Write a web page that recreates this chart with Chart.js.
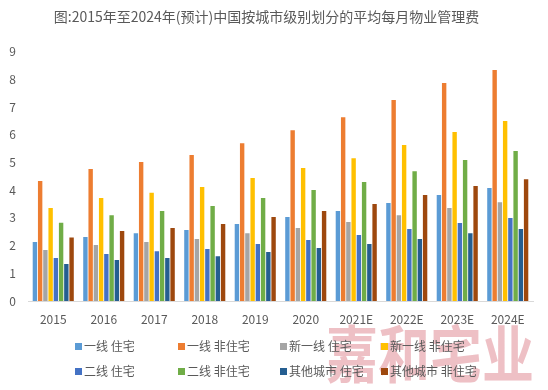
<!DOCTYPE html>
<html>
<head>
<meta charset="utf-8">
<script src="https://cdn.jsdelivr.net/npm/chart.js@4.4.0/dist/chart.umd.min.js"></script>
<style>
  html, body { margin: 0; padding: 0; background: #fff; }
  #wrap { position: relative; width: 548px; height: 390px; overflow: hidden; }
  #c { position: absolute; left: 0; top: 0; }
  #wm { position: absolute; left: 326px; top: 320px; font-family: 'Noto Sans CJK SC', sans-serif; font-weight: bold;
        font-size: 52px; line-height: 52px; color: rgba(222, 130, 140, 0.5); white-space: nowrap;
        transform: scale(1, 1.2); transform-origin: left top; letter-spacing: 0px; }
  .lg { position: absolute; font-family: 'Noto Sans CJK SC', sans-serif; font-size: 12px; color: #595959;
        white-space: nowrap; line-height: 14px; }
  .lg i { display: inline-block; width: 7px; height: 7px; margin-right: 2px; vertical-align: 1px; }
</style>
</head>
<body>
<div id="wrap">
  <canvas id="c" width="548" height="390"></canvas>
  <div id="wm">嘉和宅业</div>
  <div id="legend"></div>
</div>
<script>
const titleText = '图:2015年至2024年(预计)中国按城市级别划分的平均每月物业管理费';
const categories = ['2015', '2016', '2017', '2018', '2019', '2020', '2021E', '2022E', '2023E', '2024E'];
const seriesNames = ['一线 住宅', '一线 非住宅', '新一线 住宅', '新一线 非住宅', '二线 住宅', '二线 非住宅', '其他城市 住宅', '其他城市 非住宅'];
const seriesColors = ['#5B9BD5', '#ED7D31', '#A5A5A5', '#FFC000', '#4472C4', '#70AD47', '#255E91', '#9E480E'];
const tier1Res     = [2.13, 2.31, 2.45, 2.56, 2.78, 3.03, 3.25, 3.54, 3.83, 4.08];
const tier1NonRes  = [4.33, 4.77, 5.02, 5.27, 5.70, 6.17, 6.64, 7.26, 7.87, 8.34];
const newT1Res     = [1.84, 2.02, 2.13, 2.24, 2.45, 2.64, 2.85, 3.10, 3.36, 3.57];
const newT1NonRes  = [3.36, 3.72, 3.91, 4.12, 4.44, 4.80, 5.16, 5.63, 6.10, 6.50];
const tier2Res     = [1.55, 1.70, 1.80, 1.88, 2.06, 2.20, 2.38, 2.60, 2.82, 3.00];
const tier2NonRes  = [2.83, 3.10, 3.25, 3.43, 3.72, 4.01, 4.30, 4.69, 5.09, 5.42];
const otherRes     = [1.34, 1.48, 1.55, 1.62, 1.77, 1.91, 2.06, 2.24, 2.45, 2.60];
const otherNonRes  = [2.29, 2.53, 2.64, 2.78, 3.03, 3.25, 3.50, 3.83, 4.15, 4.40];
const yTicks = [0, 1, 2, 3, 4, 5, 6, 7, 8, 9];

const seriesValues = [tier1Res, tier1NonRes, newT1Res, newT1NonRes, tier2Res, tier2NonRes, otherRes, otherNonRes];
const FONT = "'Noto Sans CJK SC', 'Noto Sans', sans-serif";

new Chart(document.getElementById('c'), {
  type: 'bar',
  data: {
    labels: categories,
    datasets: seriesNames.map((n, i) => ({
      label: n,
      data: seriesValues[i],
      backgroundColor: seriesColors[i],
      borderWidth: 0,
      categoryPercentage: 0.83,
      barPercentage: 0.84
    }))
  },
  options: {
    responsive: false,
    animation: false,
    devicePixelRatio: 1,
    layout: { padding: { left: 0, right: 15, top: 0, bottom: 59 } },
    plugins: {
      legend: { display: false },
      tooltip: { enabled: false },
      title: {
        display: true,
        text: titleText,
        color: '#595959',
        font: { family: FONT, size: 14, weight: 'normal', lineHeight: 1.2 },
        padding: { top: 8, bottom: 27 }
      }
    },
    scales: {
      x: {
        grid: { display: false, drawTicks: false },
        border: { display: true, color: '#D9D9D9', width: 1 },
        ticks: { color: '#595959', font: { family: FONT, size: 12 }, padding: 11, autoSkip: false, maxRotation: 0 },
        afterFit: s => { s.height = 30; }
      },
      y: {
        min: 0, max: 9,
        afterBuildTicks: s => { s.ticks = yTicks.map(v => ({ value: v })); },
        grid: { display: false, drawTicks: false },
        border: { display: false },
        ticks: { color: '#595959', font: { family: FONT, size: 12 }, padding: 12 },
        afterFit: s => { s.width = 28; }
      }
    }
  }
});

const legend = document.getElementById('legend');
const colX = [75, 178, 280, 381];
const rowY = [339, 364];
seriesNames.forEach((n, i) => {
  const d = document.createElement('div');
  d.className = 'lg';
  d.style.left = colX[i % 4] + 'px';
  d.style.top = rowY[Math.floor(i / 4)] + 'px';
  d.innerHTML = '<i style="background:' + seriesColors[i] + '"></i>' + n;
  legend.appendChild(d);
});
</script>
</body>
</html>
